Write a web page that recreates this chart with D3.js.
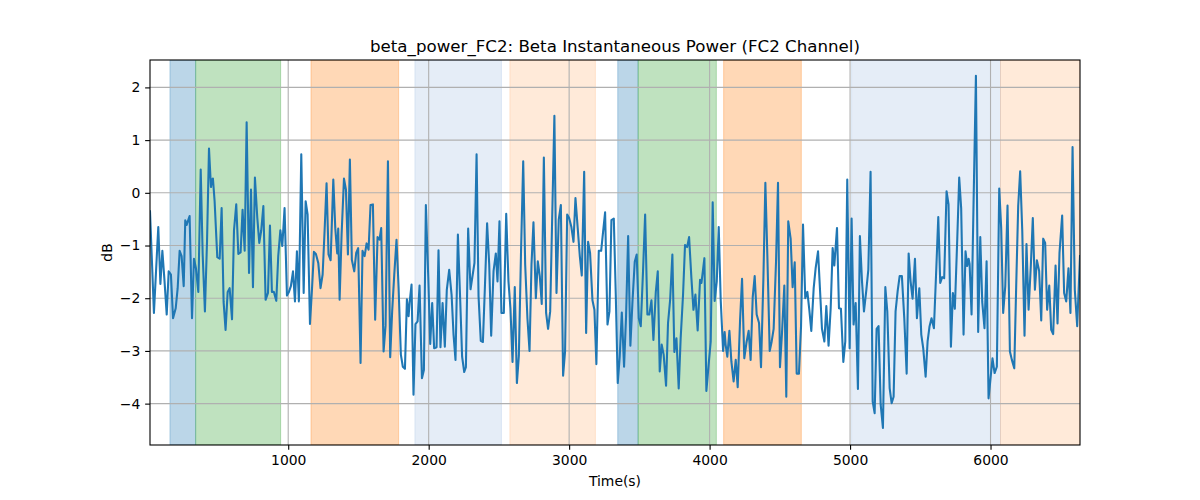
<!DOCTYPE html>
<html><head><meta charset="utf-8">
<script src="https://cdn.jsdelivr.net/npm/d3@7"></script>
<style>body{margin:0;background:#fff}svg{display:block}text{font-family:"DejaVu Sans",sans-serif}</style>
</head><body><svg id="c" width="1200" height="500"></svg>
<script>
const times = [16,44,68,75,90,104,118,135,149,165,180,199,213,227,241,256,267,277,284,298,315,329,343,360,377,391,407,422,436,450,457,464,476,495,512,526,540,554,569,583,600,614,630,645,661,675,690,704,721,735,749,763,780,794,808,823,839,856,870,884,898,915,929,944,958,974,991,1005,1019,1034,1048,1062,1076,1093,1110,1124,1138,1155,1169,1183,1197,1214,1230,1245,1259,1273,1287,1302,1321,1335,1349,1356,1366,1380,1397,
1411,1425,1439,1453,1470,1484,1498,1515,1529,1544,1558,1572,1586,1603,1619,1636,1650,1662,1679,1693,1710,1726,1740,1755,1771,1786,1802,1816,1831,1845,1857,1864,1878,1892,1906,1921,1935,1952,1966,1980,1997,2011,2025,2039,2056,2070,2084,2099,2115,2129,2146,2163,2177,2191,2208,2224,2238,2253,2265,2281,2298,2312,2326,2341,2355,2371,2386,2400,2416,2431,2445,2462,2478,2490,2504,2518,2535,2552,2568,2582,2597,2613,2628,2642,2658,2673,2687,2703,2718,2732,2746,
2763,2777,2791,2805,2820,2836,2850,2865,2895,2910,2926,2941,2957,2971,2986,3000,3016,3031,3045,3061,3076,3090,3107,3121,3135,3149,3166,3180,3194,3211,3228,3242,3256,3273,3287,3301,3318,3332,3346,3360,3375,3391,3405,3420,3436,3451,3467,3481,3496,3510,3526,3541,3557,3571,3586,3600,3617,3631,3645,3659,3673,3690,3704,3719,3735,3749,3764,3780,3794,3811,3825,3840,3854,3870,3885,3899,3915,3932,3942,3963,3977,3994,4008,4022,4036,4051,4065,4079,4096,
4107,4114,4126,4141,4155,4171,4186,4200,4217,4231,4247,4262,4278,4292,4307,4321,4335,4352,4366,4383,4397,4411,4428,4442,4456,4473,4487,4501,4515,4532,4546,4560,4577,4591,4606,4620,4636,4651,4665,4681,4696,4710,4724,4741,4755,4772,4786,4800,4817,4831,4847,4862,4876,4888,4907,4921,4935,4952,4966,4980,4997,5011,5025,5040,5056,5070,5085,5099,5116,5130,5146,5161,5175,5189,5203,5218,5234,5251,5265,5282,5296,5310,5324,5339,5353,5369,5386,5403,5417,
5431,5445,5462,5476,5493,5507,5521,5538,5552,5566,5580,5597,5614,5628,5642,5656,5670,5687,5701,5718,5732,5746,5763,5777,5791,5808,5822,5834,5844,5851,5865,5879,5896,5912,5927,5941,5957,5972,5986,6000,6014,6029,6045,6062,6076,6090,6105,6121,6138,6152,6169,6183,6197,6211,6226,6242,6256,6271,6287,6301,6316,6330,6346,6361,6375,6389,6403,6418,6432,6446,6463,6477,6491,6510,6524,6539,6555,6569,6584,6600,6617,6637];
const power = [-0.35,-2.28,-1.01,-0.65,-1.73,-1.10,-1.62,-2.31,-1.49,-1.55,-2.38,-2.19,-1.81,-1.10,-1.20,-1.77,-0.52,-0.61,-0.55,-0.44,-2.38,-1.25,-1.43,-1.88,0.44,-1.17,-2.25,-0.92,0.84,0.11,0.25,0.27,-0.16,-1.22,-1.25,-0.29,-2.07,-2.60,-1.88,-1.81,-2.40,-0.71,-0.22,-1.16,-1.13,-0.32,-1.10,1.34,-1.52,0.06,-1.79,0.29,-0.48,-0.95,-0.71,-0.25,-2.03,-1.90,-0.62,-1.88,-1.88,-2.05,-1.20,-0.71,-1.01,-0.29,-1.95,-1.88,-1.77,-1.49,-2.06,-1.11,-2.06,0.73,-1.90,-0.16,-0.41,-2.49,-1.84,-1.12,-1.16,-1.33,-1.81,-1.55,-0.72,0.18,-1.17,-1.28,0.25,-0.67,-1.15,-0.68,-2.03,-0.79,0.27,
0.06,-1.17,0.63,-1.27,-1.49,-1.14,-1.05,-3.23,-1.10,-1.20,-0.96,-1.08,-0.23,-0.22,-2.41,-0.84,-0.89,-0.67,-3.01,-2.52,0.60,-3.12,-2.25,-1.55,-0.89,-1.81,-3.07,-3.30,-3.34,-2.02,-2.34,-2.09,-1.74,-3.83,-2.49,-2.44,-1.76,-3.52,-3.36,-0.23,-1.60,-2.87,-2.09,-2.95,-2.93,-1.09,-2.93,-2.09,-2.92,-1.84,-1.46,-1.93,-2.69,-3.17,-0.79,-2.00,-3.11,-3.40,-3.31,-0.68,-1.83,-1.58,-1.33,0.73,-1.96,-2.81,-2.83,-1.81,-0.58,-1.36,-2.71,-1.48,-1.15,-1.68,-0.54,-2.28,-2.28,-0.40,-1.68,-2.19,-3.21,-1.79,-3.61,-3.09,-1.05,0.60,-1.36,-2.38,-3.00,-1.36,-0.56,
-2.00,-1.30,-1.58,-2.11,0.67,-2.28,-2.58,-2.25,1.46,-1.90,-0.51,-0.23,-3.47,-3.01,-0.41,-0.48,-0.65,-0.93,-0.10,-0.67,-1.20,-1.57,0.40,-2.66,-0.93,-1.14,-2.04,-2.22,-3.25,-1.10,-1.10,-0.73,-0.37,-2.50,-2.25,-0.52,-0.49,-1.93,-3.61,-3.11,-2.27,-3.30,-2.36,-0.82,-2.90,-2.06,-1.31,-1.17,-2.38,-2.53,-1.49,-0.41,-2.31,-2.31,-2.04,-2.79,-1.88,-1.49,-3.39,-2.88,-3.07,-3.66,-2.47,-2.03,-1.17,-3.02,-2.76,-3.71,-2.76,-1.93,-0.99,-1.03,-0.84,-1.60,-2.22,-1.93,-2.61,-1.65,-1.71,-1.24,-3.76,-3.23,-2.82,-0.18,-2.05,-1.68,-0.65,-2.03,-3.00,
-2.64,-2.88,-3.11,-2.62,-3.20,-3.58,-3.17,-3.69,-2.41,-1.63,-3.14,-2.85,-2.62,-3.17,-1.98,-1.58,-2.31,-2.47,-3.31,-1.62,0.19,-1.17,-3.00,-2.82,-2.58,-1.30,0.19,-3.31,-2.68,-1.76,-3.87,-0.54,-0.87,-1.79,-1.32,-3.43,-3.43,-2.53,-0.60,-2.00,-1.88,-2.22,-2.62,-1.81,-1.43,-1.11,-1.84,-2.58,-2.82,-2.15,-2.90,-2.19,-1.05,-1.38,-0.67,-2.19,-2.20,-3.21,-2.82,0.25,-2.95,-0.49,-2.50,-2.09,-3.72,-0.82,-1.68,-2.25,-1.84,-1.46,0.40,-3.96,-4.18,-2.58,-2.53,-4.02,-4.46,-1.79,-2.25,-3.71,-3.99,-3.87,-2.25,-1.86,-1.58,-1.58,-2.38,-3.43,-1.15,
-1.68,-2.01,-1.25,-2.38,-1.81,-2.69,-2.95,-3.49,-2.82,-2.53,-2.38,-2.57,-1.43,-0.46,-1.71,-1.60,-1.62,0.03,-0.22,-2.92,-1.90,-2.20,-0.89,0.29,-0.29,-2.69,-1.11,-1.39,-1.25,-1.35,-2.31,-0.22,2.22,-2.64,-0.84,-2.07,-2.57,-1.30,-3.90,-3.52,-3.14,-3.42,-3.30,0.08,-0.67,-2.28,-1.77,-0.24,-3.01,-3.17,-3.33,-1.74,-0.25,0.41,-0.73,-2.71,-0.97,-2.22,-1.38,-0.48,-1.84,-1.28,-1.48,-2.42,-0.87,-0.95,-2.22,-1.76,-2.60,-2.68,-1.38,-2.48,-1.14,-0.43,-1.90,-2.06,-1.43,-2.28,0.87,-1.84,-2.53,-1.20];

const bandStart = [158, 341, 1162, 1902, 2578, 3346, 3491, 4100, 5011, 6071];
const bandEnd   = [341, 946, 1786, 2518, 3187, 3491, 4048, 4653, 6071, 6637];
const bandKind  = ["blue","green","orange","lightblue","lightorange","blue","green","orange","lightblue","lightorange"];
const xTicks = [1000, 2000, 3000, 4000, 5000, 6000];
const yTicks = [-4, -3, -2, -1, 0, 1, 2];
const yDomain = [-4.785, 2.52];

const bandColor = {
  blue: "rgba(31,119,180,0.3)",
  green: "rgba(44,160,44,0.3)",
  orange: "rgba(255,127,14,0.3)",
  lightblue: "rgba(70,130,200,0.14)",
  lightorange: "rgba(253,160,80,0.22)"
};

const W = 1200, H = 500;
const m = {left: 150, right: 1080, top: 60, bottom: 445};
const svg = d3.select("#c");
const x = d3.scaleLinear().domain(d3.extent(times)).range([m.left, m.right]);
const y = d3.scaleLinear().domain(yDomain).range([m.bottom, m.top]);
const fmt = v => String(v).replace("-", "\u2212");

// clip
svg.append("defs").append("clipPath").attr("id","clip").append("rect")
  .attr("x", m.left).attr("y", m.top).attr("width", m.right-m.left).attr("height", m.bottom-m.top);

const plot = svg.append("g").attr("clip-path","url(#clip)");
// bands
plot.selectAll("rect.band").data(bandStart.map((s,i)=>({s, e: bandEnd[i], k: bandKind[i]})))
  .enter().append("rect").attr("class","band")
  .attr("x", d => x(d.s)).attr("width", d => x(d.e)-x(d.s))
  .attr("y", m.top).attr("height", m.bottom-m.top)
  .attr("fill", d => bandColor[d.k]).attr("stroke", d => bandColor[d.k]).attr("stroke-width", 1);

// grid
plot.selectAll("line.gx").data(xTicks).enter().append("line")
  .attr("x1", d => x(d)).attr("x2", d => x(d)).attr("y1", m.top).attr("y2", m.bottom)
  .attr("stroke", "#b0b0b0").attr("stroke-width", 1.1);
plot.selectAll("line.gy").data(yTicks).enter().append("line")
  .attr("y1", d => y(d)).attr("y2", d => y(d)).attr("x1", m.left).attr("x2", m.right)
  .attr("stroke", "#b0b0b0").attr("stroke-width", 1.1);

// line
const data = times.map((t,i)=>({t, v: power[i]}));
plot.append("path").datum(data)
  .attr("fill","none").attr("stroke","#1f77b4").attr("stroke-width",2.08)
  .attr("stroke-linejoin","round").attr("stroke-linecap","square")
  .attr("d", d3.line().x(d=>x(d.t)).y(d=>y(d.v)));

// axes
const xAxis = svg.append("g").attr("transform",`translate(0,${m.bottom})`)
  .call(d3.axisBottom(x).tickValues(xTicks).tickFormat(fmt).tickSize(4.86).tickPadding(4.86).tickSizeOuter(0));
const yAxis = svg.append("g").attr("transform",`translate(${m.left},0)`)
  .call(d3.axisLeft(y).tickValues(yTicks).tickFormat(fmt).tickSize(4.86).tickPadding(4.86).tickSizeOuter(0));
[xAxis, yAxis].forEach(a => {
  a.select(".domain").remove();
  a.selectAll(".tick line").attr("stroke","#000").attr("stroke-width",1.1);
  a.selectAll(".tick text").attr("fill","#000").attr("font-size","13.9px").attr("font-family","DejaVu Sans");
});

// spines
svg.append("rect").attr("x", m.left).attr("y", m.top).attr("width", m.right-m.left).attr("height", m.bottom-m.top)
  .attr("fill","none").attr("stroke","#000").attr("stroke-width",1.1);

// labels
svg.append("text").attr("x", (m.left+m.right)/2).attr("y", 52).attr("text-anchor","middle")
  .attr("font-size","16.67px").attr("fill","#000").text("beta_power_FC2: Beta Instantaneous Power (FC2 Channel)");
svg.append("text").attr("x", (m.left+m.right)/2).attr("y", 486).attr("text-anchor","middle")
  .attr("font-size","13.9px").attr("fill","#000").text("Time(s)");
svg.append("text").attr("transform",`translate(112,${(m.top+m.bottom)/2}) rotate(-90)`).attr("text-anchor","middle")
  .attr("font-size","13.9px").attr("fill","#000").text("dB");
</script></body></html>
